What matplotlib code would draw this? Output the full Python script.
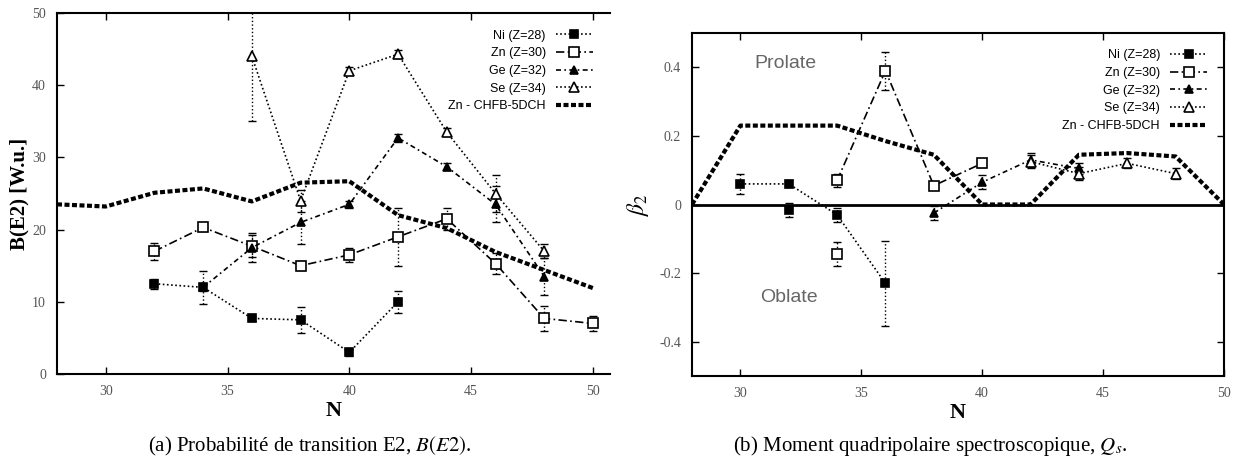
import numpy as np
import matplotlib
matplotlib.use("Agg")
import matplotlib.pyplot as plt

plt.rcParams['mathtext.fontset'] = 'stix'

# ---- Data: (a) B(E2) ----
ni_n = [32, 34, 36, 38, 40, 42]
ni_be2 = [12.5, 12.0, 7.7, 7.5, 3.0, 10.0]
ni_be2_err = [0.7, 0.5, 0.4, 1.8, 0.5, 1.5]

zn_n = [32, 34, 36, 38, 40, 42, 44, 46, 48, 50]
zn_be2 = [17.0, 20.3, 17.7, 15.0, 16.5, 19.0, 21.5, 15.3, 7.7, 7.0]
zn_be2_err = [1.2, 0.5, 1.5, 0.6, 1.0, 4.0, 1.5, 1.5, 1.7, 1.0]

ge_n = [34, 36, 38, 40, 42, 44, 46, 48]
ge_be2 = [12.0, 17.5, 21.0, 23.5, 32.7, 28.7, 23.5, 13.5]
ge_be2_err = [2.3, 2.0, 3.0, 0.5, 0.5, 0.5, 2.5, 2.5]

se_n = [36, 38, 40, 42, 44, 46, 48]
se_be2 = [44.0, 24.0, 42.0, 44.3, 33.5, 25.0, 17.0]
se_be2_err = [9.0, 1.5, 0.5, 0.6, 0.6, 2.5, 1.0]

chfb_n = [28, 30, 32, 34, 36, 38, 40, 42, 44, 46, 48, 50]
chfb_be2 = [23.5, 23.2, 25.1, 25.7, 23.9, 26.5, 26.7, 22.0, 20.2, 16.9, 14.4, 11.9]

# ---- Data: (b) beta2 ----
ni_b_n = [30, 32, 34, 36]
ni_beta = [0.06, 0.06, -0.03, -0.23]
ni_beta_err = [0.03, 0.01, 0.02, 0.125]
ni_extra_n = [32]
ni_extra_beta = [-0.015]
ni_extra_err = [0.02]

zn_b_n = [34, 36, 38, 40]
zn_beta = [0.07, 0.39, 0.055, 0.12]
zn_beta_err = [0.02, 0.055, 0.01, 0.01]
zn_extra_n = [34]
zn_extra_beta = [-0.145]
zn_extra_err = [0.035]

ge_b_n = [38, 40, 42, 44]
ge_beta = [-0.025, 0.065, 0.13, 0.105]
ge_beta_err = [0.02, 0.02, 0.02, 0.015]

se_b_n = [42, 44, 46, 48]
se_beta = [0.125, 0.09, 0.12, 0.09]
se_beta_err = [0.02, 0.02, 0.015, 0.015]

chfb_b_n = [28, 30, 34, 36, 38, 40, 42, 44, 46, 48, 50]
chfb_beta = [0.0, 0.23, 0.23, 0.185, 0.145, 0.0, 0.0, 0.145, 0.15, 0.14, 0.0]

labels = ["Ni (Z=28)", "Zn (Z=30)", "Ge (Z=32)", "Se (Z=34)", "Zn - CHFB-5DCH"]

# ---- Styles ----
styles = {
    "ni": dict(ls=(0, (1, 1.5)), marker="s", mfc="black", ms=6),
    "zn": dict(ls=(0, (5, 2, 1, 2)), marker="s", mfc="white", ms=7),
    "ge": dict(ls=(0, (3, 2, 1, 2)), marker="^", mfc="black", ms=6),
    "se": dict(ls=(0, (1, 1.5)), marker="^", mfc="white", ms=7),
}
chfb_style = dict(ls=(0, (1.2, 0.6)), lw=3, color="black")

serif = "Liberation Serif"
sans = "Liberation Sans"
tick_col = "#555555"

fig = plt.figure(figsize=(12.4, 4.72), dpi=100)
ax1 = fig.add_axes([57 / 1240, 1 - 374 / 472, (610 - 57) / 1240, (374 - 13) / 472])
ax2 = fig.add_axes([692 / 1240, 1 - 376 / 472, (1224 - 692) / 1240, (376 - 33) / 472])


def draw_series(ax, n, vals, errs, key, label=None):
    st = styles[key]
    eb = ax.errorbar(n, vals, yerr=errs, fmt="none", ecolor="black", elinewidth=1,
                     capsize=3, zorder=2)
    eb[-1][0].set_linestyle(":")
    line, = ax.plot(n, vals, color="black", lw=1.2, ls=st["ls"], marker=st["marker"],
                    mfc=st["mfc"], mec="black", mew=1.2, ms=st["ms"], label=label, zorder=3)
    return line


def style_axes(ax):
    ax.tick_params(direction="in", length=5, width=1, top=True, right=True,
                   labelsize=10, labelcolor=tick_col, pad=8)
    for lab in ax.get_xticklabels() + ax.get_yticklabels():
        lab.set_family(serif)
    for sp in ax.spines.values():
        sp.set_linewidth(1.5)
    ax.set_xlabel("N", family=serif, fontsize=16, fontweight="bold", labelpad=2)


# ---- (a) ----
h = []
h.append(draw_series(ax1, ni_n, ni_be2, ni_be2_err, "ni", labels[0]))
h.append(draw_series(ax1, zn_n, zn_be2, zn_be2_err, "zn", labels[1]))
h.append(draw_series(ax1, ge_n, ge_be2, ge_be2_err, "ge", labels[2]))
h.append(draw_series(ax1, se_n, se_be2, se_be2_err, "se", labels[3]))
c1, = ax1.plot(chfb_n, chfb_be2, label=labels[4], **chfb_style)
h.append(c1)
ax1.set_xlim(28, 50.7)
ax1.set_ylim(0, 50)
ax1.set_xticks([30, 35, 40, 45, 50])
ax1.set_yticks([0, 10, 20, 30, 40, 50])
ax1.spines["right"].set_visible(False)
style_axes(ax1)
ax1.tick_params(right=False)
ax1.set_ylabel("B(E2) [W.u.]", family=serif, fontsize=15, fontweight="bold", labelpad=2)
ax1.legend(handles=h, loc="upper right", bbox_to_anchor=(0.99, 0.985), frameon=False,
           markerfirst=False, handlelength=3, labelspacing=0.45,
           prop={"family": sans, "size": 9})

# ---- (b) ----
h = []
h.append(draw_series(ax2, ni_b_n, ni_beta, ni_beta_err, "ni", labels[0]))
draw_series(ax2, ni_extra_n, ni_extra_beta, ni_extra_err, "ni")
h.append(draw_series(ax2, zn_b_n, zn_beta, zn_beta_err, "zn", labels[1]))
draw_series(ax2, zn_extra_n, zn_extra_beta, zn_extra_err, "zn")
h.append(draw_series(ax2, ge_b_n, ge_beta, ge_beta_err, "ge", labels[2]))
h.append(draw_series(ax2, se_b_n, se_beta, se_beta_err, "se", labels[3]))
c2, = ax2.plot(chfb_b_n, chfb_beta, label=labels[4], **chfb_style)
h.append(c2)
ax2.axhline(0, color="black", lw=2, zorder=1)
ax2.set_xlim(28, 50)
ax2.set_ylim(-0.5, 0.5)
ax2.set_xticks([30, 35, 40, 45, 50])
ax2.set_yticks([-0.4, -0.2, 0, 0.2, 0.4])
ax2.set_yticklabels(["-0.4", "-0.2", "0", "0.2", "0.4"])
style_axes(ax2)
ax2.set_ylabel(r"$\beta_2$", fontsize=17, labelpad=6)
ax2.text(0.118, 0.91, "Prolate", transform=ax2.transAxes, family=sans, fontsize=14,
         color="#666666", ha="left", va="center")
ax2.text(0.128, 0.23, "Oblate", transform=ax2.transAxes, family=sans, fontsize=14,
         color="#666666", ha="left", va="center")
ax2.legend(handles=h, loc="upper right", bbox_to_anchor=(0.99, 0.985), frameon=False,
           markerfirst=False, handlelength=3, labelspacing=0.45,
           prop={"family": sans, "size": 9})

# ---- captions ----
fig.text(0.25, 0.055, r"(a) Probabilité de transition E2, $B(E2)$.", family=serif,
         fontsize=15, ha="center", va="center")
fig.text(0.75, 0.055, r"(b) Moment quadripolaire spectroscopique, $Q_s$.", family=serif,
         fontsize=15, ha="center", va="center")

fig.savefig("out.png", dpi=100, facecolor="white")
